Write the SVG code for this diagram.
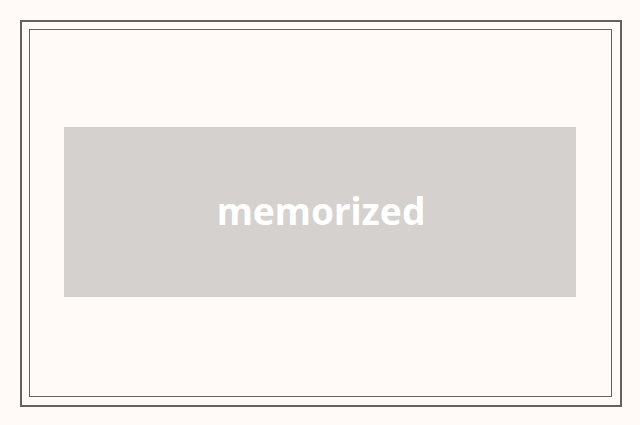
<svg xmlns="http://www.w3.org/2000/svg" width="640" height="425" viewBox="0 0 640 425">
<style>
.frame{fill:none;stroke:#646160}
.node rect{fill:#d4d1ce}
.node text{fill:#ffffff;font-family:"Noto Sans","Open Sans","Liberation Sans",sans-serif;font-weight:700;font-size:37px;text-anchor:middle}
</style>
<rect x="0" y="0" width="640" height="425" fill="#fffaf7"/>
<rect class="frame" x="21" y="21" width="600" height="385" stroke-width="2"/>
<rect class="frame" x="29.5" y="29.5" width="582" height="367" stroke-width="1"/>
<g id="node-memorized" class="node">
<rect x="64" y="127" width="512" height="170"/>
<text x="321" y="225">memorized</text>
</g>
<g id="connectors"></g>
</svg>
